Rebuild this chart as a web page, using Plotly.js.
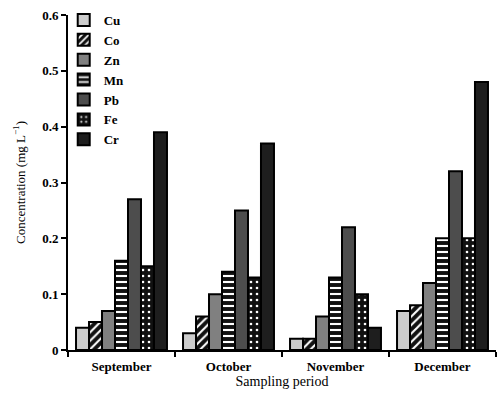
<!DOCTYPE html>
<html><head><meta charset="utf-8">
<script src="https://cdn.plot.ly/plotly-3.0.1.min.js"></script>
<style>html,body{margin:0;padding:0;background:#fff}#chart{width:498px;height:402px}</style>
</head><body><div id="chart"></div>
<script>
const months = ["September", "October", "November", "December"];
const metals = ["Cu", "Co", "Zn", "Mn", "Pb", "Fe", "Cr"];
const Cu = [0.04, 0.03, 0.02, 0.07];
const Co = [0.05, 0.06, 0.02, 0.08];
const Zn = [0.07, 0.10, 0.06, 0.12];
const Mn = [0.16, 0.14, 0.13, 0.20];
const Pb = [0.27, 0.25, 0.22, 0.32];
const Fe = [0.15, 0.13, 0.10, 0.20];
const Cr = [0.39, 0.37, 0.04, 0.48];
const values = [Cu, Co, Zn, Mn, Pb, Fe, Cr];
const fills = ["#cccccc", "#111111", "#808080", "#111111", "#4d4d4d", "#111111", "#1e1e1e"];
const patterns = ["", "/", "", "-", "", ".", ""];
const solid = [0, 0.35, 0, 0.35, 0, 0.15, 0];

const traces = metals.map((m, i) => ({
  type: "bar", name: m, x: months, y: values[i],
  marker: {
    color: fills[i],
    line: {color: "#000", width: 2},
    pattern: patterns[i] ? {shape: patterns[i], fgcolor: "#ffffff", bgcolor: "#111111", size: 6, solidity: solid[i]} : {shape: ""}
  }
}));

const serif = "Liberation Serif, Times New Roman, serif";
const layout = {
  width: 498, height: 402,
  margin: {l: 68, r: 2, t: 15, b: 52},
  paper_bgcolor: "#fff", plot_bgcolor: "#fff",
  barmode: "group", bargap: 0.15, bargroupgap: 0,
  showlegend: true,
  legend: {x: -0.01, y: 1.03, xanchor: "left", yanchor: "top", bgcolor: "rgba(0,0,0,0)",
    font: {family: serif, size: 13, color: "#000", weight: "bold"}, tracegroupgap: 0, itemwidth: 30},
  xaxis: {
    type: "category", range: [-0.5, 3.5],
    showline: true, linecolor: "#000", linewidth: 2,
    ticks: "outside", tickson: "boundaries", ticklen: 5, tickwidth: 2, tickcolor: "#000",
    ticklabelstandoff: 3,
    tickfont: {family: serif, size: 13, color: "#000", weight: "bold"},
    title: {text: "Sampling period", font: {family: serif, size: 14, color: "#000"}, standoff: 2},
    showgrid: false, zeroline: false
  },
  yaxis: {
    range: [0, 0.6], dtick: 0.1,
    showline: true, linecolor: "#000", linewidth: 2,
    ticks: "outside", ticklen: 5, tickwidth: 2, tickcolor: "#000",
    tickfont: {family: serif, size: 13, color: "#000", weight: "bold"},
    title: {text: "Concentration (mg L<sup>−1</sup>)", font: {family: serif, size: 13, color: "#000"}, standoff: 14},
    showgrid: false, zeroline: false
  }
};
Plotly.newPlot("chart", traces, layout, {displayModeBar: false});
</script></body></html>
